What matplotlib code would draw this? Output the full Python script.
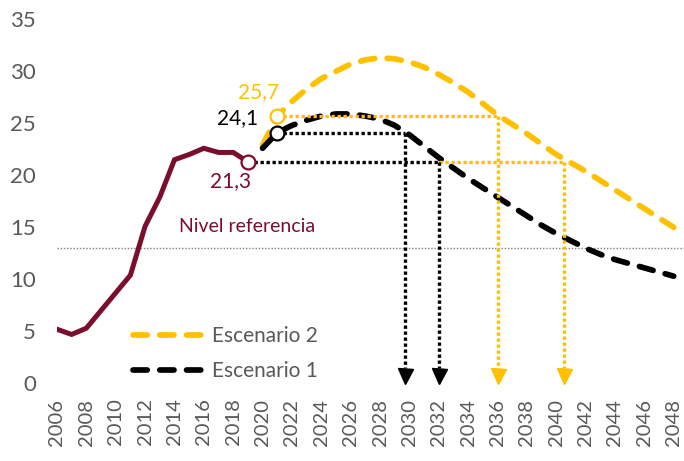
# projection chart: historical series + two scenarios crossing reference levels
import numpy as np
import matplotlib
matplotlib.use("Agg")
import matplotlib.pyplot as plt
from matplotlib.lines import Line2D

# ---
# data
# ---

hist_years = np.arange(2006, 2020)
hist_vals = [5.2, 4.7, 5.3, 7.0, 8.7, 10.4, 15.1, 17.9, 21.5, 22.0, 22.6, 22.2, 22.2, 21.3]

scen_years = np.arange(2020, 2049)
esc2_vals = [22.9, 25.7, 27.1, 28.3, 29.3, 30.0, 30.7, 31.1, 31.3, 31.2,
             30.9, 30.4, 29.7, 28.9, 28.0, 26.9, 25.8, 24.9, 24.0, 23.0,
             22.0, 21.2, 20.4, 19.5, 18.6, 17.7, 16.8, 15.9, 15.0]
esc1_vals = [22.6, 24.1, 24.8, 25.3, 25.7, 25.9, 25.9, 25.7, 25.4, 24.8,
             23.9, 22.8, 21.7, 20.7, 19.7, 18.8, 17.9, 17.0, 16.1, 15.2,
             14.4, 13.7, 13.0, 12.4, 11.9, 11.5, 11.1, 10.7, 10.3]

# highlighted values
last_year, last_val = 2019, 21.3
mark_year = 2021
esc1_mark, esc2_mark = 24.1, 25.7
mark_labels = ["21,3", "24,1", "25,7"]

# years where the scenarios cross the levels (arrows)
esc1_cross = [2029.7, 2032.0]
esc2_cross = [2036.0, 2040.5]

ref_level = 13.0
ref_label = "Nivel referencia"
legend_labels = ["Escenario 2", "Escenario 1"]

xticks = np.arange(2006, 2049, 2)
yticks = np.arange(0, 36, 5)

# ---
# style
# ---

plt.rcParams['font.family'] = ['Lato', 'DejaVu Sans']
maroon = "#7B0D2D"
yellow = "#FFC000"
black = "#000000"
grey = "#595959"

dash = (0, (2.5, 2.2))
dot = (0, (1, 0.8))

fig = plt.figure(figsize=(6.84, 4.61), dpi=100)
ax = fig.add_axes([0.0833, 0.1685, 0.9167, 0.7896])

# reference level
ax.axhline(ref_level, color="#808080", lw=1.0, ls=(0, (1, 1.3)), zorder=1)
ax.text(2014.3, 15.1, ref_label, color=maroon, fontsize=14, va="center", ha="left")

# scenarios
ax.plot(scen_years, esc2_vals, color=yellow, lw=4.1, ls=dash,
        dash_capstyle="round", zorder=3)
ax.plot(scen_years, esc1_vals, color=black, lw=4.1, ls=dash,
        dash_capstyle="round", zorder=3)

# historical
ax.plot(hist_years, hist_vals, color=maroon, lw=3.6, solid_joinstyle="miter", zorder=4)

# ---
# dotted guides + arrows
# ---

guides = [
    (black, mark_year, esc1_mark, esc1_cross[0]),
    (black, last_year, last_val, esc1_cross[1]),
    (yellow, mark_year, esc2_mark, esc2_cross[0]),
    (yellow, esc1_cross[1], last_val, esc2_cross[1]),
]
for c, x0, lev, x1 in guides:
    ax.plot([x0, x1], [lev, lev], color=c, lw=2.4, ls=dot, dash_capstyle="butt", zorder=5)
for c, x0, lev, x1 in guides:
    ax.plot([x1, x1], [lev, 1.5], color=c, lw=2.4, ls=dot, dash_capstyle="butt", zorder=5)
    ax.plot([x1], [0.75], marker="v", ms=10.8, color=c, mec=c, zorder=6, clip_on=False)

# markers
ax.plot([last_year], [last_val], marker="o", ms=10, mfc="white", mec=maroon, mew=1.6, zorder=7)
ax.plot([mark_year], [esc1_mark], marker="o", ms=10, mfc="white", mec=black, mew=1.6, zorder=7)
ax.plot([mark_year], [esc2_mark], marker="o", ms=10, mfc="white", mec=yellow, mew=1.6, zorder=7)

ax.text(2017.8, 19.4, mark_labels[0], color=maroon, fontsize=15, ha="center", va="center")
ax.text(2018.3, 25.5, mark_labels[1], color=black, fontsize=15, ha="center", va="center")
ax.text(2019.7, 28.0, mark_labels[2], color=yellow, fontsize=15, ha="center", va="center")

# ---
# legend
# ---

handles = [Line2D([], [], color=yellow, lw=4.1, ls=dash, dash_capstyle="round"),
           Line2D([], [], color=black, lw=4.1, ls=dash, dash_capstyle="round")]
leg = fig.legend(handles, legend_labels, loc="upper left",
                 bbox_to_anchor=(132.7 / 684, 1 - 326 / 461),
                 frameon=False, fontsize=15, handlelength=3.5, handletextpad=0.3,
                 labelspacing=0.72, borderpad=0, borderaxespad=0)
for t in leg.get_texts():
    t.set_color(grey)

# ---
# axes
# ---

ax.set_xlim(2006, 2048.7)
ax.set_ylim(0, 35)
ax.set_xticks(xticks)
ax.set_xticklabels([str(y) for y in xticks], rotation=90)
ax.set_yticks(yticks)
ax.tick_params(axis="x", length=0, pad=11, labelsize=14.5, labelcolor=grey)
ax.tick_params(axis="y", length=0, pad=15, labelsize=16, labelcolor=grey)
for s in ax.spines.values():
    s.set_visible(False)

fig.savefig("out.png", dpi=100)
